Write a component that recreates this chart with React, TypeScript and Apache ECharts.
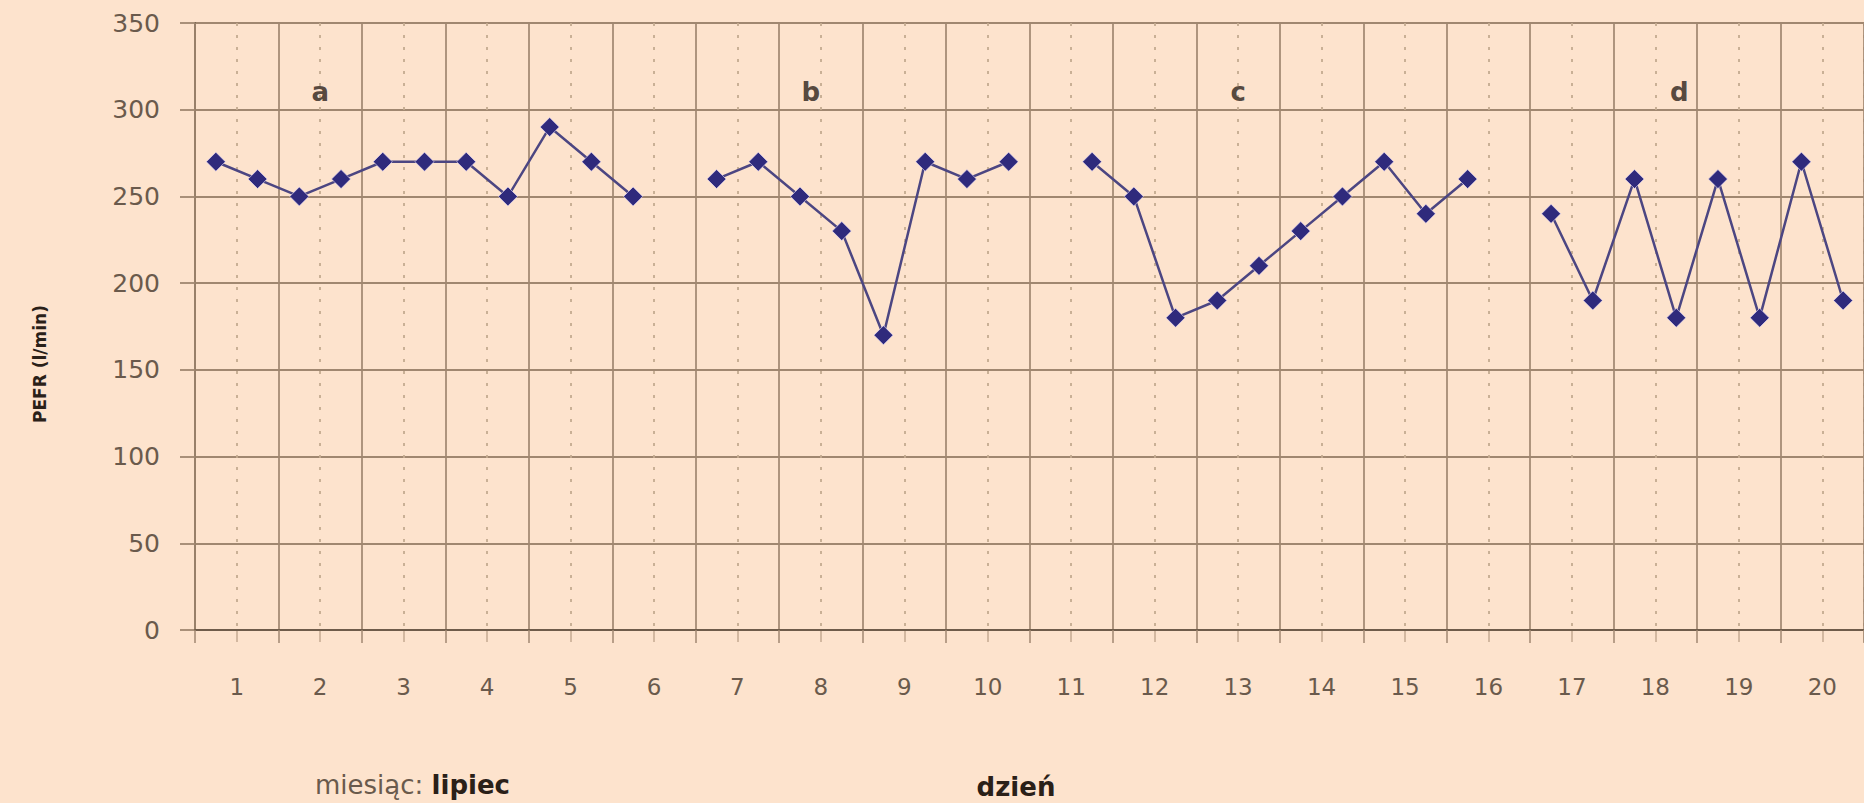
import React, { useEffect, useRef } from "react";
import * as echarts from "echarts";

// ---- data ----
const days = ["1","2","3","4","5","6","7","8","9","10","11","12","13","14","15","16","17","18","19","20"];
const morningPEFR: (number | null)[] = [270, 250, 270, 270, 290, 250, 260, 250, 170, 260, null, 250, 190, 230, 270, 260, 240, 260, 260, 270];
const eveningPEFR: (number | null)[] = [260, 260, 270, 250, 270, null, 270, 230, 270, 270, 270, 180, 210, 250, 240, null, 190, 180, 180, 190];
const yMin = 0;
const yMax = 350;
const yStep = 50;
const sectionLabels = ["a", "b", "c", "d"];
const sectionLabelDays = ["2", "8", "13", "18"];
const sectionLabelValue = 310;
const yAxisTitle = "PEFR (l/min)";
const xAxisTitle = "dzień";
const monthPrefix = "miesiąc: ";
const monthName = "lipiec";

// ---- styles ----
const BG = "#FDE3CD";
const GRID = "#a08770";
const AXIS = "#6f5c4a";
const DOT = "#c4aa90";
const TICK_TEXT = "#6a5a4c";
const DARK = "#2a2018";
const MARK = "#2f2a7c";
const LINE = "#4c4682";
const FONT = "'DejaVu Sans', 'Open Sans', sans-serif";
const labelOffsets: [number, number][] = [[0, 0], [-10, 0], [0, 0], [24, 0]];

const halfDaySlots = days.flatMap((d) => [d + " rano", d + " wieczór"]);
const pefr = days.flatMap((_, i) => [morningPEFR[i], eveningPEFR[i]]);

export default function App() {
  const ref = useRef<HTMLDivElement>(null);
  useEffect(() => {
    if (!ref.current) return;
    const chart = echarts.init(ref.current, undefined, { renderer: "svg" });
    chart.setOption({
      animation: false,
      backgroundColor: BG,
      textStyle: { fontFamily: FONT },
      grid: { left: 195, top: 23, right: -7, bottom: 173, containLabel: false },
      xAxis: [
        {
          type: "category",
          data: days,
          boundaryGap: true,
          position: "bottom",
          axisLine: { show: true, lineStyle: { color: AXIS, width: 2 } },
          axisTick: { show: true, interval: 0, length: 13, lineStyle: { color: GRID, width: 1.5 } },
          axisLabel: { interval: 0, margin: 45, fontSize: 23, color: TICK_TEXT, fontFamily: FONT },
          splitLine: { show: true, interval: 0, lineStyle: { color: GRID, width: 1.7 } },
          z: 3,
        },
        {
          type: "category",
          data: halfDaySlots,
          boundaryGap: true,
          position: "bottom",
          axisLine: { show: false },
          axisLabel: { show: false },
          axisTick: { show: true, interval: (i: number) => i % 2 === 1, length: 12, lineStyle: { color: DOT, width: 1.5 } },
          splitLine: {
            show: true,
            interval: (i: number) => i % 2 === 1,
            lineStyle: { color: DOT, width: 1.8, type: [3, 9] },
          },
        },
      ],
      yAxis: {
        type: "value",
        min: yMin,
        max: yMax,
        interval: yStep,
        axisLine: { show: true, lineStyle: { color: AXIS, width: 2 } },
        axisTick: { show: true, length: 15, lineStyle: { color: GRID, width: 1.8 } },
        axisLabel: { margin: 35, fontSize: 25, color: TICK_TEXT, fontFamily: FONT },
        splitLine: { show: true, lineStyle: { color: GRID, width: 2 } },
      },
      series: [
        {
          type: "line",
          xAxisIndex: 1,
          data: pefr,
          connectNulls: false,
          symbol: "diamond",
          symbolSize: 19,
          itemStyle: { color: MARK, borderColor: "rgba(235,225,255,0.6)", borderWidth: 1 },
          lineStyle: { color: LINE, width: 2.5 },
          z: 5,
        },
        {
          type: "scatter",
          xAxisIndex: 0,
          symbolSize: 1,
          itemStyle: { color: "rgba(0,0,0,0)" },
          data: sectionLabelDays.map((d, i) => ({
            value: [d, sectionLabelValue],
            name: sectionLabels[i],
            label: { offset: labelOffsets[i] },
          })),
          label: {
            show: true,
            position: "inside",
            formatter: (p: any) => p.name,
            fontSize: 26,
            fontWeight: "bold",
            color: DARK,
            fontFamily: FONT,
          },
          z: 6,
        },
      ],
      graphic: [
        {
          type: "text",
          x: 40,
          y: 364,
          rotation: Math.PI / 2,
          style: {
            text: yAxisTitle,
            fontSize: 17,
            fontWeight: "bold",
            fill: DARK,
            fontFamily: FONT,
            align: "center",
            verticalAlign: "middle",
          },
        },
        {
          type: "text",
          x: 315,
          y: 785,
          style: {
            rich: {
              n: { fontSize: 26, fill: TICK_TEXT, fontFamily: FONT },
              b: { fontSize: 26, fontWeight: "bold", fill: DARK, fontFamily: FONT },
            },
            text: "{n|" + monthPrefix + "}{b|" + monthName + "}",
            verticalAlign: "middle",
            align: "left",
          },
        },
        {
          type: "text",
          x: 1016,
          y: 787,
          style: {
            text: xAxisTitle,
            fontSize: 26,
            fontWeight: "bold",
            fill: DARK,
            fontFamily: FONT,
            align: "center",
            verticalAlign: "middle",
          },
        },
      ],
    });
    return () => chart.dispose();
  }, []);
  return (
    <div
      ref={ref}
      style={{ position: "fixed", left: 0, top: 0, width: 1864, height: 803 }}
    />
  );
}
